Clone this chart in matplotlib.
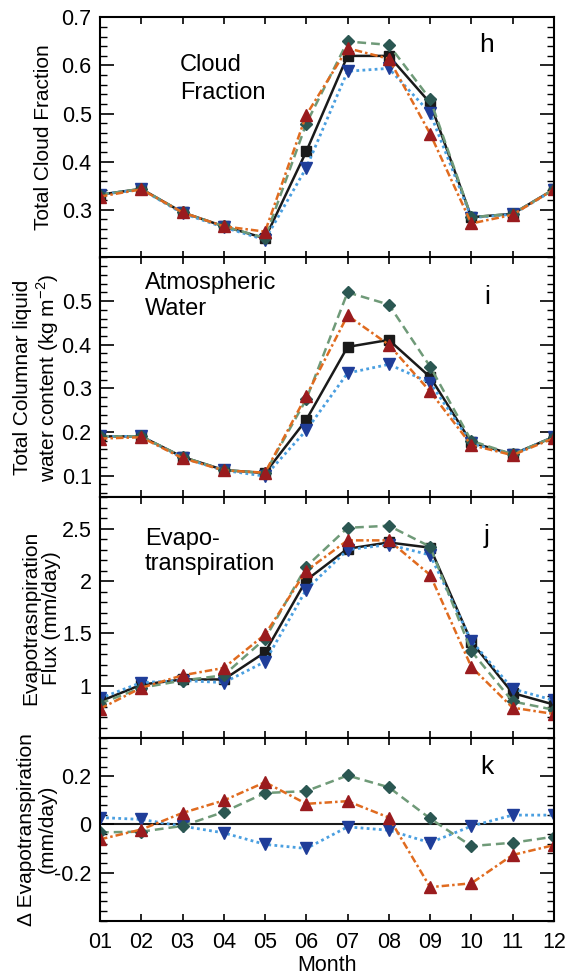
import matplotlib
matplotlib.use('Agg')
import matplotlib.pyplot as plt
from matplotlib.ticker import FixedLocator, MultipleLocator

plt.rcParams['font.family'] = ['Liberation Sans', 'DejaVu Sans']

# Months on the x axis
months = ['01', '02', '03', '04', '05', '06', '07', '08', '09', '10', '11', '12']

# Panel h: total cloud fraction
cloud_black = [0.331, 0.343, 0.294, 0.265, 0.240, 0.421, 0.620, 0.620, 0.522, 0.284, 0.291, 0.342]
cloud_blue = [0.331, 0.342, 0.292, 0.263, 0.237, 0.387, 0.588, 0.594, 0.501, 0.283, 0.290, 0.341]
cloud_green = [0.331, 0.343, 0.294, 0.265, 0.241, 0.479, 0.650, 0.643, 0.530, 0.284, 0.291, 0.342]
cloud_red = [0.327, 0.342, 0.294, 0.265, 0.254, 0.497, 0.636, 0.614, 0.458, 0.271, 0.289, 0.342]

# Panel i: total columnar liquid water content
water_black = [0.190, 0.190, 0.143, 0.113, 0.106, 0.228, 0.395, 0.411, 0.326, 0.176, 0.149, 0.189]
water_blue = [0.190, 0.190, 0.141, 0.112, 0.099, 0.204, 0.335, 0.355, 0.313, 0.174, 0.148, 0.189]
water_green = [0.190, 0.190, 0.143, 0.113, 0.106, 0.275, 0.520, 0.492, 0.350, 0.180, 0.149, 0.189]
water_red = [0.185, 0.188, 0.140, 0.112, 0.107, 0.283, 0.467, 0.400, 0.293, 0.170, 0.147, 0.186]

# Panel j: evapotranspiration flux
et_black = [0.85, 1.01, 1.06, 1.06, 1.32, 2.01, 2.31, 2.37, 2.32, 1.42, 0.93, 0.82]
et_blue = [0.88, 1.03, 1.05, 1.03, 1.23, 1.92, 2.30, 2.35, 2.25, 1.43, 0.97, 0.86]
et_green = [0.83, 0.98, 1.05, 1.10, 1.45, 2.14, 2.51, 2.53, 2.33, 1.33, 0.85, 0.77]
et_red = [0.78, 0.98, 1.10, 1.17, 1.49, 2.10, 2.39, 2.39, 2.06, 1.18, 0.79, 0.73]

# Panel k: change in evapotranspiration
det_blue = [0.029, 0.021, -0.007, -0.035, -0.083, -0.100, -0.010, -0.024, -0.076, -0.007, 0.039, 0.039]
det_green = [-0.033, -0.030, -0.006, 0.052, 0.131, 0.139, 0.204, 0.155, 0.025, -0.090, -0.076, -0.051]
det_red = [-0.062, -0.021, 0.048, 0.100, 0.176, 0.086, 0.097, 0.029, -0.261, -0.245, -0.127, -0.086]

black = dict(color='#1a1a1a', ls='-', marker='s', ms=6.5, mfc='#1a1a1a', mec='#1a1a1a', lw=1.8)
blue = dict(color='#4a9fe0', ls=(0, (1, 1.2)), marker='v', ms=8, mfc='#1f3d99', mec='#1f3d99', lw=2.0)
green = dict(color='#6f9a78', ls=(0, (3.5, 2)), marker='D', ms=6.5, mfc='#2b5752', mec='#2b5752', lw=1.8)
red = dict(color='#e06b1f', ls=(0, (3, 1.2, 1, 1.2)), marker='^', ms=8, mfc='#9a1b1e', mec='#9a1b1e', lw=1.8)

fig = plt.figure(figsize=(5.76, 9.77), dpi=100)
left, width = 0.1736, 0.788
ax_h = fig.add_axes([left, 0.7364, width, 0.2457])
ax_i = fig.add_axes([left, 0.4908, width, 0.2457])
ax_j = fig.add_axes([left, 0.2446, width, 0.2462])
ax_k = fig.add_axes([left, 0.0578, width, 0.1868])

x = list(range(len(months)))

for s, st in [(cloud_black, black), (cloud_blue, blue), (cloud_green, green), (cloud_red, red)]:
    ax_h.plot(x, s, **st)
for s, st in [(water_black, black), (water_blue, blue), (water_green, green), (water_red, red)]:
    ax_i.plot(x, s, **st)
for s, st in [(et_black, black), (et_blue, blue), (et_green, green), (et_red, red)]:
    ax_j.plot(x, s, **st)
ax_k.axhline(0, color='#1a1a1a', lw=1.5, zorder=1)
for s, st in [(det_blue, blue), (det_green, green), (det_red, red)]:
    ax_k.plot(x, s, **st)

fs = 15.5
# axis, y limits, ticks, tick labels, minor step, y label, label x, note, note position, letter y
setup = [
    (ax_h, (0.2, 0.7), [0.3, 0.4, 0.5, 0.6, 0.7], ['0.3', '0.4', '0.5', '0.6', '0.7'], 0.02,
     'Total Cloud Fraction', -0.103, 'Cloud\nFraction', (0.176, 0.744), 1.35, 0.885, 'h'),
    (ax_i, (0.05, 0.6), [0.1, 0.2, 0.3, 0.4, 0.5], ['0.1', '0.2', '0.3', '0.4', '0.5'], 0.02,
     'Total Columnar liquid\nwater content (kg m$^{\\mathregular{-2}}$)', -0.086,
     'Atmospheric\nWater', (0.099, 0.84), 1.25, 0.835, 'i'),
    (ax_j, (0.5, 2.8), [1, 1.5, 2, 2.5], ['1', '1.5', '2', '2.5'], 0.1,
     'Evapotrasnpiration\nFlux (mm/day)', -0.086, 'Evapo-\ntranspiration', (0.099, 0.775), 1.2,
     0.84, 'j'),
    (ax_k, (-0.4, 0.36), [-0.2, 0, 0.2], ['-0.2', '0', '0.2'], 0.04,
     '\u0394 Evapotranspiration\n(mm/day)', -0.095, None, None, 1.2, 0.84, 'k'),
]

for ax, ylim, yt, ytl, minor, ylab, labx, note, npos, nsp, ly, letter in setup:
    ax.set_xlim(0, 11)
    ax.set_ylim(*ylim)
    ax.set_xticks(x)
    ax.yaxis.set_major_locator(FixedLocator(yt))
    ax.set_yticklabels(ytl)
    ax.yaxis.set_minor_locator(MultipleLocator(minor))
    ax.tick_params(axis='y', which='major', direction='in', length=10, width=1.2,
                   left=True, right=True, labelsize=fs, pad=6)
    ax.tick_params(axis='y', which='minor', direction='in', length=5, width=1.0,
                   left=True, right=True)
    ax.tick_params(axis='x', which='major', direction='in', length=5, width=1.2,
                   top=True, bottom=True, labelsize=fs, pad=8)
    for sp in ax.spines.values():
        sp.set_linewidth(1.5)
    ax.set_ylabel(ylab, fontsize=15, linespacing=1.1)
    ax.yaxis.set_label_coords(labx, 0.5)
    ax.text(0.852, ly, letter, transform=ax.transAxes, fontsize=19, ha='center', va='center')
    if ax is not ax_k:
        ax.tick_params(axis='x', labelbottom=False)
    if note:
        ax.text(npos[0], npos[1], note, transform=ax.transAxes, fontsize=17,
                ha='left', va='center', linespacing=nsp)

ax_k.set_xticklabels(months)
ax_k.set_xlabel('Month', fontsize=15.5, labelpad=2)

fig.savefig('out.png', dpi=100)
